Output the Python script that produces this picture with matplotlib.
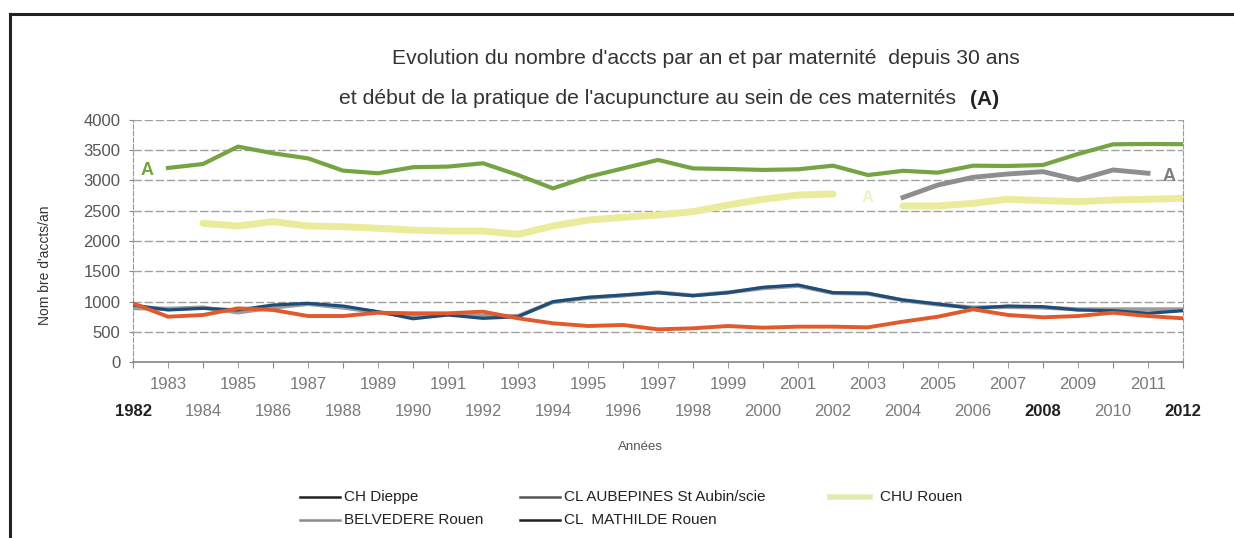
import matplotlib
matplotlib.use("Agg")
import matplotlib.pyplot as plt
from matplotlib.lines import Line2D
import numpy as np

plt.rcParams['font.family'] = ['Liberation Sans', 'DejaVu Sans']

annees = list(range(1982, 2013))

ch_dieppe = [942, 860, 887, 860, 942, 970, 925, 832, 715, 777, 722, 749, 997, 1069, 1107, 1146,
             1096, 1146, 1235, 1273, 1146, 1135, 1025, 959, 887, 925, 914, 860, 848, 805, 848]
cl_aubepines = [890, 880, 900, 820, 900, 960, 900, 820, 760, 790, 760, 760, 990, 1060, 1100, 1150,
                1100, 1150, 1220, 1260, 1140, 1130, 1020, 950, 900, 910, 900, 870, 870, 870, 870]
chu_rouen = [np.nan, np.nan, 2292, 2248, 2320, 2248, 2237, 2210, 2180, 2165, 2165, 2110, 2248, 2347,
             2391, 2430, 2485, 2595, 2690, 2760, 2777, np.nan, 2580, 2580, 2623, 2690, 2667, 2650,
             2678, 2690, 2705]
belvedere_rouen = [970, 749, 777, 887, 860, 760, 760, 815, 805, 805, 832, 722, 640, 595, 612, 540,
                   557, 595, 567, 584, 584, 573, 667, 749, 871, 777, 739, 760, 815, 760, 722]
cl_mathilde_rouen = [np.nan, 3207, 3273, 3560, 3450, 3366, 3163, 3120, 3220, 3230, 3285, 3090, 2870,
                     3060, 3200, 3340, 3200, 3190, 3175, 3185, 3245, 3090, 3160, 3130, 3245, 3240,
                     3256, 3438, 3598, 3604, 3600]
serie_grise = [np.nan] * 22 + [2720, 2926, 3053, 3108, 3146, 3009, 3174, 3120, np.nan]

legend_labels = ["CH Dieppe", "CL AUBEPINES St Aubin/scie", "CHU Rouen",
                 "BELVEDERE Rouen", "CL  MATHILDE Rouen"]
yticks = [0, 500, 1000, 1500, 2000, 2500, 3000, 3500, 4000]
bold_years = [1982, 2008, 2012]

W, H = 1234, 538
fig = plt.figure(figsize=(W / 100, H / 100), dpi=100)
ax = fig.add_axes([133 / W, 1 - 362 / H, (1183 - 133) / W, (362 - 120) / H])

c_green = '#76A443'
c_yellow = '#EAEC9C'
c_grey = '#8E8E8E'
c_navy = '#1F4D7A'
c_orange = '#E2592B'
c_grey2 = '#9C9C9C'

x = np.array(annees)
ax.plot(x, chu_rouen, color=c_yellow, lw=5, solid_capstyle='round', zorder=2)
ax.plot(x, cl_mathilde_rouen, color=c_green, lw=3, zorder=3)
ax.plot(x, serie_grise, color=c_grey, lw=3.5, zorder=3)
ax.plot(x, cl_aubepines, color=c_grey2, lw=3, zorder=3)
ax.plot(x, ch_dieppe, color=c_navy, lw=2.3, zorder=4)
ax.plot(x, belvedere_rouen, color=c_orange, lw=2.8, zorder=5)

ax.text(1982.4, 3170, 'A', color=c_green, fontsize=13, fontweight='bold', va='center', ha='center')
ax.text(2011.6, 3060, 'A', color='#7F7F7F', fontsize=13, fontweight='bold', va='center', ha='center')
ax.text(2003.0, 2720, 'A', color='#EEF2C8', fontsize=12, fontweight='bold', va='center', ha='center')

ax.set_xlim(1982, 2012)
ax.set_ylim(0, 4000)
ax.set_yticks(yticks)
ax.set_yticklabels([str(v) for v in yticks], fontsize=12, color='#555555')
ax.grid(axis='y', color='#A0A0A0', lw=1.0, ls=(0, (6, 2)))
ax.set_axisbelow(True)

even = [a for a in annees if a % 2 == 0]
odd = [a for a in annees if a % 2 == 1]
ax.set_xticks(even)
ax.set_xticks(odd, minor=True)
ax.set_xticklabels([str(a) for a in even], fontsize=12, color='#7A7A7A')
ax.set_xticklabels([str(a) for a in odd], minor=True, fontsize=12, color='#7A7A7A')
for lab in ax.get_xticklabels():
    if int(lab.get_text()) in bold_years:
        lab.set_color('#222222')
        lab.set_fontweight('bold')
ax.tick_params(axis='x', which='major', length=4, pad=26, color='#888888')
ax.tick_params(axis='x', which='minor', length=4, pad=7, color='#888888')
ax.tick_params(axis='y', length=3, pad=6, color='#888888')

ax.spines['top'].set_visible(False)
for s in ['left', 'right']:
    ax.spines[s].set_color('#999999')
    ax.spines[s].set_linestyle((0, (4, 2)))
ax.spines['bottom'].set_color('#888888')
ax.spines['bottom'].set_linewidth(1.2)

fig.text(45 / W, 1 - 265 / H, "Nom bre d'accts/an", rotation=90, ha='center', va='center',
         fontsize=10, color='#333333')
fig.text(640 / W, 1 - 447 / H, "Années", ha='center', va='center', fontsize=9.5, color='#555555')

fig.text(706 / W, 1 - 59 / H, "Evolution du nombre d'accts par an et par maternité  depuis 30 ans",
         ha='center', va='center', fontsize=15.2, color='#333333')
fig.text(648 / W, 1 - 98 / H, "et début de la pratique de l'acupuncture au sein de ces maternités",
         ha='center', va='center', fontsize=15.2, color='#333333')
fig.text(985 / W, 1 - 100 / H, "(A)", ha='center', va='center', fontsize=15, color='#222222',
         fontweight='bold')

# legend (manual placement)
leg_items = [
    (legend_labels[0], '#222222', 1.8, 300, 340, 497),
    (legend_labels[1], '#555555', 1.8, 520, 560, 497),
    (legend_labels[2], '#E3EBB5', 4.0, 830, 870, 497),
    (legend_labels[3], '#8A8A8A', 1.8, 300, 340, 520),
    (legend_labels[4], '#222222', 1.8, 520, 560, 520),
]
for lab, col, lw, x0, x1, yy in leg_items:
    fig.add_artist(Line2D([x0 / W, x1 / W], [1 - yy / H, 1 - yy / H], color=col, lw=lw))
    tx = x1 + (10 if lab == "CHU Rouen" else 4)
    fig.text(tx / W, 1 - yy / H, lab, ha='left', va='center', fontsize=11, color='#222222')

fig.add_artist(Line2D([10 / W, 10 / W], [0, 1 - 14 / H], color='#222222', lw=2.2))
fig.add_artist(Line2D([10 / W, 1], [1 - 14 / H, 1 - 14 / H], color='#222222', lw=2.2))

fig.savefig('out.png', dpi=100)
